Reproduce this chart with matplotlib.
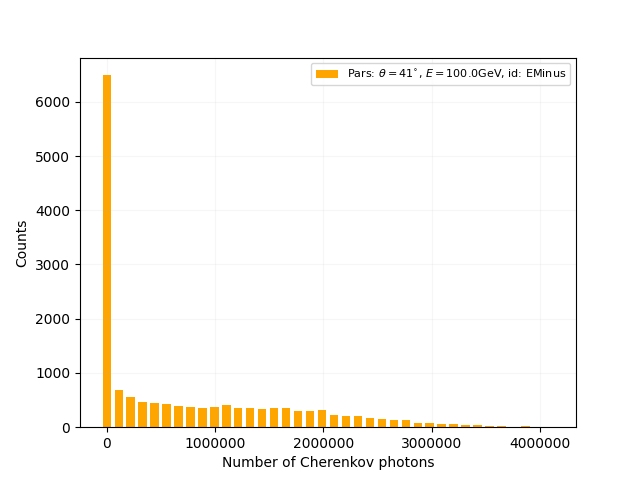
import numpy as np
import matplotlib
matplotlib.use('Agg')
from matplotlib import pyplot as plt

bin_width = 110400
counts = [6490, 683, 554, 462, 443, 425, 388, 370, 351, 370,
          406, 351, 351, 332, 351, 351, 295, 295, 314, 222,
          203, 203, 166, 148, 129, 129, 74, 74, 55, 55,
          37, 37, 18, 18, 0, 18, 0, 0]
centers = np.arange(len(counts)) * bin_width

fig, ax = plt.subplots(figsize=(6.4, 4.8), dpi=100)
ax.bar(centers, counts, width=0.7 * bin_width, color='orange',
       label=r'Pars: $\theta=41^{\circ}$, $E=100.0$GeV, id: EMinus')
ax.grid(alpha=0.1)
ax.ticklabel_format(axis='x', style='plain', useOffset=False)
ax.set_xlabel('Number of Cherenkov photons')
ax.set_ylabel('Counts')
ax.legend(loc='upper right', fontsize=8)
plt.savefig('out.png')
